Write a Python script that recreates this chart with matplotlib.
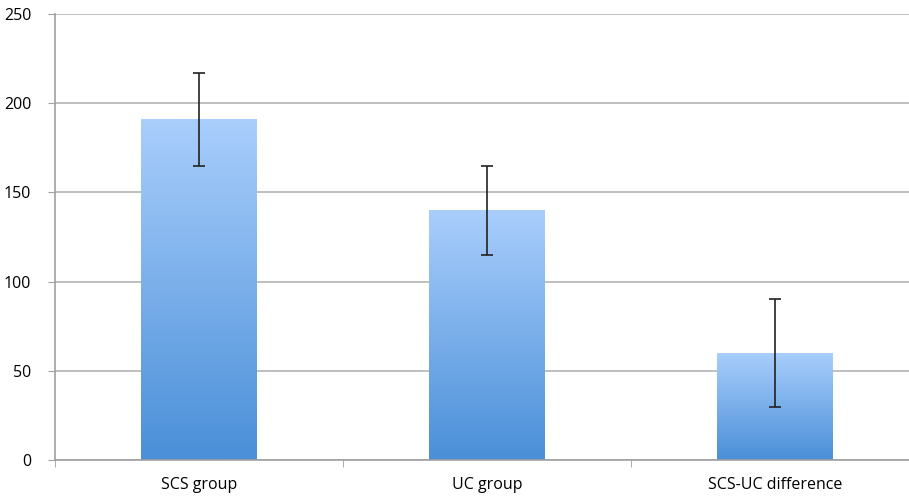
import numpy as np
import matplotlib
matplotlib.use("Agg")
import matplotlib.pyplot as plt
from matplotlib.colors import LinearSegmentedColormap

categories = ["SCS group", "UC group", "SCS-UC difference"]
values = [191, 140, 60]
errors = [26, 25, 30]
yticks = [0, 50, 100, 150, 200, 250]

plt.rcParams['font.family'] = ['Open Sans', 'DejaVu Sans']

fig = plt.figure(figsize=(9.09, 4.97), dpi=100)
# category axis runs a little past the right edge of the picture
ax = fig.add_axes([0.0605, 0.0744, 0.9505, 0.8974])

x = np.arange(len(categories))
bars = ax.bar(x, values, width=0.4, color='none', edgecolor='none', zorder=2)

# vertical gradient inside each bar, light on top, darker at bottom
cmap = LinearSegmentedColormap.from_list("bluegrad", ["#4a8fd8", "#a9cefc"])
grad = np.linspace(0, 1, 256).reshape(-1, 1)
for b in bars:
    x0, y0 = b.get_x(), b.get_y()
    w, h = b.get_width(), b.get_height()
    im = ax.imshow(grad, cmap=cmap, aspect='auto', origin='lower',
                   extent=[x0, x0 + w, y0, y0 + h], zorder=2)
    im.set_clip_path(b)

ax.errorbar(x, values, yerr=errors, fmt='none', ecolor='#222222',
            elinewidth=1.2, capsize=4.5, capthick=1.2, zorder=3)

ax.set_xlim(-0.5, 2.5)
ax.set_ylim(0, 250)
ax.set_yticks(yticks)
ax.set_xticks(x)
ax.set_xticklabels(categories, fontsize=11.5)
ax.set_xticks([-0.5, 0.5, 1.5, 2.5], minor=True)
ax.tick_params(axis='x', which='major', length=0, pad=12)
ax.tick_params(axis='x', which='minor', length=5, color='#a0a0a0')
ax.tick_params(axis='y', length=5, color='#a0a0a0', labelsize=11.5, pad=12)

ax.yaxis.grid(True, color='#b4b4b4', linewidth=1.2)
ax.set_axisbelow(True)
for s in ['top', 'right']:
    ax.spines[s].set_visible(False)
for s in ['left', 'bottom']:
    ax.spines[s].set_color('#a0a0a0')
    ax.spines[s].set_linewidth(1.2)

fig.savefig("out.png", dpi=100)
